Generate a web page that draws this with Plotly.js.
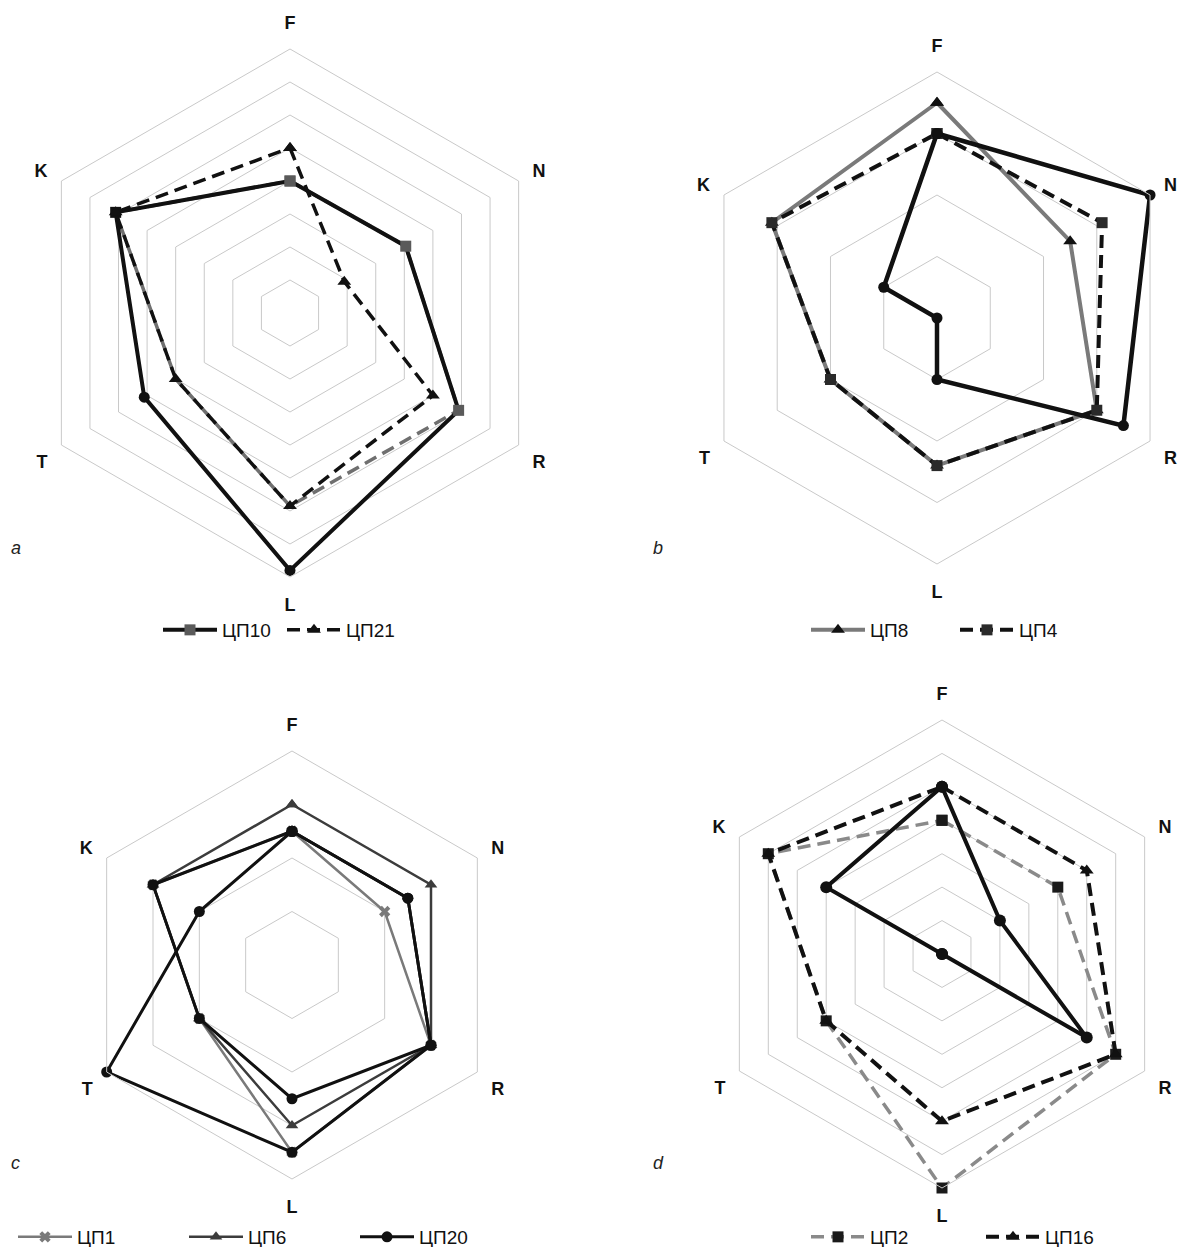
<!DOCTYPE html>
<html>
<head>
<meta charset="utf-8">
<script src="https://cdn.plot.ly/plotly-3.0.1.min.js"></script>
<style>html,body{margin:0;padding:0;background:#fff;}#chart{width:1184px;height:1247px;}</style>
</head>
<body>
<div id="chart"></div>
<script>
// ---- data ----
const axesLabels = ['F', 'N', 'R', 'L', 'T', 'K'];

// panel a (8 grid rings)
const a_CP10  = [4.0, 4.05, 5.9, 7.8, 5.1, 6.1];
const a_CP21  = [5.0, 1.9, 5.0, 5.85, 4.0, 6.1];
const a_other = [4.0, 4.05, 5.9, 5.85, 4.0, 6.1];

// panel b (4 grid rings)
const b_CP8   = [3.5, 2.5, 3.0, 2.4, 2.0, 3.1];
const b_CP4   = [3.0, 3.1, 3.0, 2.4, 2.0, 3.1];
const b_other = [3.0, 4.0, 3.5, 1.0, 0.0, 1.0];

// panel c (4 grid rings)
const c_CP1   = [2.5, 2.0, 3.0, 3.5, 2.0, 3.0];
const c_CP6   = [3.0, 3.0, 3.0, 3.0, 2.0, 3.0];
const c_CP20  = [2.5, 2.5, 3.0, 2.5, 2.0, 3.0];
const c_other = [2.5, 2.5, 3.0, 3.5, 4.0, 2.0];

// panel d (7 grid rings)
const d_CP2   = [4.0, 4.0, 6.0, 7.0, 4.0, 6.0];
const d_CP16  = [5.0, 5.0, 6.0, 5.0, 4.0, 6.0];
const d_other = [5.0, 2.0, 5.0, 0.0, 0.0, 4.0];

const ringsA = 8, ringsB = 4, ringsC = 4, ringsD = 7;
const panelLetters = ['a', 'b', 'c', 'd'];

// ---- layout helpers ----
const W = 1184, H = 1247;
const close = arr => arr.concat([arr[0]]);
const thetaC = close(axesLabels);
const clamp = v => Math.max(0, Math.min(1, v));

function dom(cx, cy, R) {
  return {x: [clamp((cx - R) / W), clamp((cx + R) / W)],
          y: [clamp(1 - (cy + R) / H), clamp(1 - (cy - R) / H)]};
}

function polar(cx, cy, R, rings) {
  const rv = [];
  for (let i = 1; i <= rings; i++) rv.push(i);
  return {
    domain: dom(cx, cy, R),
    gridshape: 'linear',
    bgcolor: 'rgba(0,0,0,0)',
    radialaxis: {range: [0, rings], tickmode: 'array', tickvals: rv, showticklabels: false, ticks: '',
                 showline: false, gridcolor: '#c9c9c9', gridwidth: 1},
    angularaxis: {type: 'category', categoryarray: axesLabels, direction: 'clockwise', rotation: 90,
                  showgrid: false, showline: true, linecolor: '#c9c9c9', linewidth: 1,
                  ticks: 'outside', ticklen: 12, tickcolor: 'rgba(0,0,0,0)',
                  tickfont: {family: 'Liberation Sans, Arial, sans-serif', size: 18, color: '#111', weight: 'bold'}}
  };
}
// invisible twin of a panel, used only for markers that sit exactly at the centre
// (a subplot holding unclipped traces hides points at r = 0)
function twinPolar(cx, cy, R, rings) {
  return {
    domain: dom(cx, cy, R),
    gridshape: 'linear',
    bgcolor: 'rgba(0,0,0,0)',
    radialaxis: {range: [0, rings], showgrid: false, showline: false, showticklabels: false, ticks: ''},
    angularaxis: {type: 'category', categoryarray: axesLabels, direction: 'clockwise', rotation: 90,
                  showgrid: false, showline: false, showticklabels: false, ticks: ''}
  };
}

function tr(r, subplot, legend, name, line, marker, show) {
  return {
    type: 'scatterpolar', r: close(r), theta: thetaC, subplot: subplot, legend: legend,
    name: name, mode: marker ? 'lines+markers' : 'lines', line: line, marker: marker || {},
    showlegend: show !== false, hoverinfo: 'skip', cliponaxis: false
  };
}
function centreMarks(r, subplot, marker) {
  return {
    type: 'scatterpolar', r: r.map(v => (v === 0 ? v : null)), theta: axesLabels,
    subplot: subplot, mode: 'markers', marker: marker,
    showlegend: false, hoverinfo: 'skip', cliponaxis: true
  };
}

const BLK = '#111111', GRY = '#7a7a7a', DGR = '#3c3c3c';
const DASH = '13px,7px';
const bOtherMarker = {symbol: 'circle', color: BLK, size: 11};
const dOtherMarker = {symbol: 'circle', color: BLK, size: 12};

const traces = [
  // a
  tr(a_other, 'polar', 'legend', '', {color: '#6f6f6f', width: 3.5, dash: DASH}, null, false),
  tr(a_CP10, 'polar', 'legend', 'ЦП10', {color: BLK, width: 4},
     {symbol: ['square', 'square', 'square', 'circle', 'circle', 'square', 'square'],
      color: ['#5a5a5a', '#5a5a5a', '#5a5a5a', BLK, BLK, BLK, '#5a5a5a'], size: 11}),
  tr(a_CP21, 'polar', 'legend', 'ЦП21', {color: BLK, width: 3.5, dash: DASH},
     {symbol: 'triangle-up', color: BLK, size: 12}),
  // b
  tr(b_CP8, 'polar2', 'legend2', 'ЦП8', {color: GRY, width: 4},
     {symbol: 'triangle-up', color: BLK, size: 12}),
  tr(b_CP4, 'polar2', 'legend2', 'ЦП4', {color: BLK, width: 4, dash: DASH},
     {symbol: 'square', color: '#2a2a2a', size: 11}),
  tr(b_other, 'polar2', 'legend2', '', {color: BLK, width: 4.5}, bOtherMarker, false),
  centreMarks(b_other, 'polar5', bOtherMarker),
  // c
  tr(c_CP1, 'polar3', 'legend3', 'ЦП1', {color: GRY, width: 2.5},
     {symbol: 'x', color: GRY, size: 10}),
  tr(c_CP6, 'polar3', 'legend3', 'ЦП6', {color: DGR, width: 2.5},
     {symbol: 'triangle-up', color: DGR, size: 11}),
  tr(c_other, 'polar3', 'legend3', '', {color: BLK, width: 3},
     {symbol: 'circle', color: BLK, size: 11}, false),
  tr(c_CP20, 'polar3', 'legend3', 'ЦП20', {color: BLK, width: 3},
     {symbol: 'circle', color: BLK, size: 11}),
  // d
  tr(d_CP2, 'polar4', 'legend4', 'ЦП2', {color: '#8a8a8a', width: 3.5, dash: DASH},
     {symbol: 'square', color: '#1a1a1a', size: 11}),
  tr(d_CP16, 'polar4', 'legend4', 'ЦП16', {color: BLK, width: 4, dash: DASH},
     {symbol: 'triangle-up', color: BLK, size: 12}),
  tr(d_other, 'polar4', 'legend4', '', {color: BLK, width: 4}, dOtherMarker, false),
  centreMarks(d_other, 'polar6', dOtherMarker)
];

function leg(xpx, ypx, ew) {
  return {x: xpx / W, y: 1 - ypx / H, xref: 'paper', yref: 'paper', xanchor: 'left', yanchor: 'middle',
          orientation: 'h', itemwidth: 54, entrywidth: ew, entrywidthmode: 'pixels',
          bgcolor: 'rgba(0,0,0,0)',
          font: {family: 'Liberation Sans Narrow, Liberation Sans, Arial, sans-serif', size: 19, color: '#111'},
          itemclick: false, itemdoubleclick: false, traceorder: 'normal'};
}

const letterPos = [[9, 548], [651, 548], [9, 1163], [651, 1163]];
const annotations = panelLetters.map((t, i) => ({
  text: t, x: letterPos[i][0] / W, y: 1 - letterPos[i][1] / H, xref: 'paper', yref: 'paper',
  xanchor: 'left', yanchor: 'middle', showarrow: false,
  font: {family: 'Liberation Sans, Arial, sans-serif', size: 18, style: 'italic', color: '#222'}
}));

const layout = {
  width: W, height: H, margin: {l: 0, r: 0, t: 0, b: 0, autoexpand: false},
  paper_bgcolor: '#ffffff', plot_bgcolor: '#ffffff',
  polar: polar(290, 313, 264, ringsA),
  polar2: polar(937, 318, 246, ringsB),
  polar3: polar(292, 965, 214, ringsC),
  polar4: polar(942, 954, 234, ringsD),
  polar5: twinPolar(937, 318, 246, ringsB),
  polar6: twinPolar(942, 954, 234, ringsD),
  legend: leg(158, 630, 55),
  legend2: leg(806, 630, 80),
  legend3: leg(13, 1237, 102),
  legend4: leg(806, 1237, 106),
  annotations: annotations,
  showlegend: true
};

Plotly.newPlot('chart', traces, layout, {staticPlot: true, displayModeBar: false});
</script>
</body>
</html>
